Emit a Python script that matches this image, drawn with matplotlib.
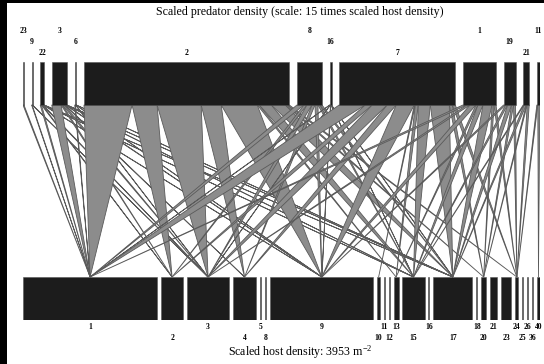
import numpy as np
import matplotlib
matplotlib.use("Agg")
import matplotlib.pyplot as plt
from matplotlib.patches import Polygon, Rectangle

plt.rcParams['mathtext.fontset'] = 'custom'
plt.rcParams['mathtext.rm'] = 'Liberation Serif'
plt.rcParams['mathtext.it'] = 'Liberation Serif'

# host species and densities (m^-2), total 3953
host_ids = [1, 2, 3, 4, 5, 8, 9, 10, 11, 12, 13, 15, 16, 17, 18, 20, 21, 23, 24, 25, 26, 36, 40]
host_density = [1230, 202, 386, 211, 9, 14, 946, 23, 9, 9, 46, 202, 9, 358, 9, 46, 64, 96, 28, 9, 9, 9, 28]

# predator (parasitoid) species and densities (m^-2), drawn 15x
pred_ids = [23, 9, 22, 3, 6, 2, 8, 16, 7, 1, 19, 21, 11]
pred_density = [0.6, 0.6, 2.4, 9.4, 1.0, 125.5, 15.3, 1.2, 71.0, 20.2, 7.3, 3.7, 1.8]

# links: predator -> list of (host, relative weight)
links = {
    23: [(1, 1)],
    9: [(1, 0.6), (3, 0.4)],
    22: [(1, 1.5), (2, 1), (3, 1), (9, 0.5), (15, 0.3), (17, 0.3)],
    3: [(1, 10), (2, 1.5), (3, 2), (4, 1), (9, 0.9), (15, 0.5), (17, 0.5)],
    6: [(1, 0.8), (3, 0.5), (9, 0.4), (17, 0.3)],
    2: [(1, 48), (2, 25), (3, 44), (4, 20), (9, 36), (13, 2), (15, 12), (17, 14), (20, 2), (24, 2)],
    8: [(1, 7), (2, 3), (3, 5), (4, 3), (9, 3), (15, 2), (17, 2)],
    16: [(1, 0.5), (3, 0.5), (9, 0.5), (15, 0.5), (17, 0.3)],
    7: [(1, 26), (2, 7), (3, 15), (4, 9), (9, 18), (10, 1), (13, 3), (15, 12), (17, 19), (20, 3), (24, 3)],
    1: [(1, 4), (3, 3), (9, 6), (13, 2), (15, 5), (17, 9), (20, 2), (24, 2)],
    19: [(9, 2), (15, 2), (17, 4), (20, 2), (24, 2)],
    21: [(15, 1), (17, 2), (20, 1), (24, 2)],
    11: [(24, 1), (40, 2)],
}

SCALE = 15
HOST_GAP = 35.8
PRED_GAP = 69.8
BAR_COL = '#1c1c1c'
LINK_COL = '#8c8c8c'
LINK_EDGE = '#5a5a5a'
serif = 'Liberation Serif'

hd = np.array(host_density, dtype=float)
h_left = np.concatenate([[0], np.cumsum(hd + HOST_GAP)[:-1]])
h_center = dict(zip(host_ids, h_left + hd / 2))

pw = np.array(pred_density) * SCALE
p_left = np.concatenate([[0], np.cumsum(pw + PRED_GAP)[:-1]])

total = h_left[-1] + hd[-1]

fig = plt.figure(figsize=(5.44, 3.64), dpi=100, facecolor='black')
fig.patches.append(Rectangle((7 / 544, 0), 1 - 7 / 544, 1 - 3 / 364, transform=fig.transFigure,
                             facecolor='white', edgecolor='none', zorder=-10))
ax = fig.add_axes([23 / 544, 44 / 364, 517 / 544, 258 / 364])
ax.set_xlim(0, total)
ax.set_ylim(-1, 5)
ax.axis('off')

# links
for i, p in enumerate(pred_ids):
    w = np.array([lw for _, lw in links[p]], dtype=float)
    w = w / w.sum() * pw[i]
    x = p_left[i]
    for (h, _), seg in zip(links[p], w):
        poly = Polygon([(x, 4), (x + seg, 4), (h_center[h], 0)], closed=True,
                       facecolor=LINK_COL, edgecolor=LINK_EDGE, linewidth=0.6, zorder=1)
        ax.add_patch(poly)
        x += seg

# host bars
for i, h in enumerate(host_ids):
    ax.add_patch(Rectangle((h_left[i], -1), hd[i], 1, facecolor=BAR_COL,
                           edgecolor='#555555', linewidth=0.4, zorder=2))
    row = -1.16 if i % 2 == 0 else -1.42
    ax.text(h_left[i] + hd[i] / 2, row, str(h), ha='center', va='center',
            fontsize=5.5, family=serif, weight='bold', clip_on=False)

# predator bars
for i, p in enumerate(pred_ids):
    ax.add_patch(Rectangle((p_left[i], 4), pw[i], 1, facecolor=BAR_COL,
                           edgecolor='#555555', linewidth=0.4, zorder=2))
    row = [5.72, 5.465, 5.21][i % 3]
    ax.text(p_left[i] + pw[i] / 2, row, str(p), ha='center', va='center',
            fontsize=5.5, family=serif, weight='bold', clip_on=False)

fig.text(0.552, 1 - 12 / 364, 'Scaled predator density (scale: 15 times scaled host density)',
         ha='center', va='center', fontsize=8.6, family=serif)
fig.text(0.552, 1 - 352 / 364, 'Scaled host density: 3953 m$^{-2}$',
         ha='center', va='center', fontsize=8.6, family=serif)

fig.savefig('out.png', dpi=100, facecolor=fig.get_facecolor())
